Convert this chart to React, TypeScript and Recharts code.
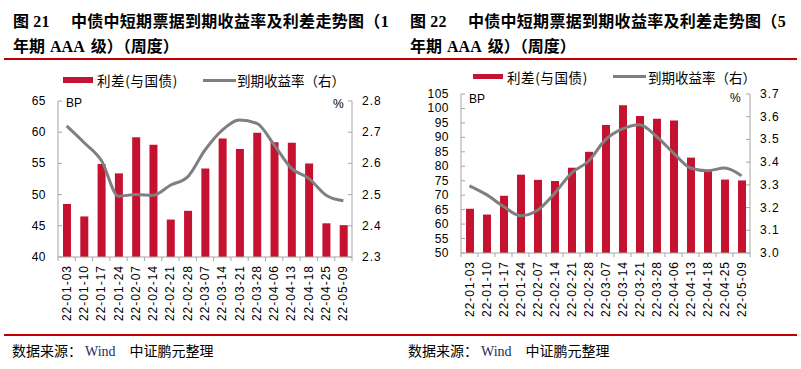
import React from 'react'
import {ComposedChart, Bar, Line, XAxis, YAxis} from 'recharts'

const dates = [
  '22-01-03', '22-01-10', '22-01-17', '22-01-24', '22-02-07', '22-02-14',
  '22-02-21', '22-02-28', '22-03-07', '22-03-14', '22-03-21', '22-03-28',
  '22-04-06', '22-04-13', '22-04-18', '22-04-25', '22-05-09',
]

const spread1y = [48.5, 46.5, 54.9, 53.4, 59.2, 58.0, 46.0, 47.4, 54.2, 59.0, 57.3, 59.9, 58.4, 58.3, 55.0, 45.4, 45.1]
const yield1y = [2.72, 2.667, 2.61, 2.495, 2.5, 2.498, 2.53, 2.557, 2.643, 2.707, 2.739, 2.728, 2.659, 2.584, 2.552, 2.498, 2.48]

const spread5y = [65.3, 63.3, 69.8, 77.1, 75.3, 74.9, 79.5, 85.0, 94.3, 101.1, 97.4, 96.4, 95.8, 83.0, 78.5, 75.4, 75.1]
const yield5y = [3.296, 3.257, 3.205, 3.164, 3.188, 3.262, 3.352, 3.404, 3.499, 3.546, 3.565, 3.513, 3.44, 3.374, 3.362, 3.374, 3.34]

const spreadTicks1y = [40, 45, 50, 55, 60, 65]
const yieldTicks1y = [2.3, 2.4, 2.5, 2.6, 2.7, 2.8]
const spreadTicks5y = [50, 55, 60, 65, 70, 75, 80, 85, 90, 95, 100, 105]
const yieldTicks5y = [3.0, 3.1, 3.2, 3.3, 3.4, 3.5, 3.6, 3.7]

const RED = '#C41230'
const GRAY_LINE = '#7F7F7F'
const AXIS = '#A6A6A6'
const CJK = '"Noto Sans CJK SC", "Noto Sans", sans-serif'
const SANS = '"Liberation Sans", Arial, sans-serif'
const SERIF = '"Liberation Serif", "Times New Roman", serif'

type PanelProps = {
  offsetX: number
  no: string
  tail: string
  spread: number[]
  yields: number[]
  spreadTicks: number[]
  yieldTicks: number[]
  top: number
  bottom: number
  leftW: number
  rightW: number
  legendY: number
  legendX: [number, number, number, number]
  bp: [number, number]
  pct: [number, number]
  titleX: number
  footX: number
}

function Panel(p: PanelProps) {
  const W = 400
  const H = 340
  const plotW = W - p.leftW - p.rightW
  const bw = plotW / dates.length
  const data = dates.map((d, i) => ({date: d, spread: p.spread[i], yld: p.yields[i]}))

  const XTick = (props: any) => {
    const {x, y, payload, index} = props
    return (
      <g>
        <line x1={x - bw / 2} x2={x - bw / 2} y1={y} y2={y + 4} stroke={AXIS} />
        {index === dates.length - 1 && (
          <line x1={x + bw / 2} x2={x + bw / 2} y1={y} y2={y + 4} stroke={AXIS} />
        )}
        <text
          x={x}
          y={y + 8}
          transform={`rotate(-90 ${x} ${y + 8})`}
          textAnchor="end"
          dominantBaseline="central"
          fontFamily={SANS}
          fontSize={12}
          letterSpacing={1}
          fill="#000"
        >
          {payload.value}
        </text>
      </g>
    )
  }

  const LeftTick = (props: any) => {
    const {x, y, payload} = props
    return (
      <g>
        <line x1={x + 12} x2={x + 16} y1={y} y2={y} stroke={AXIS} />
        <text x={x} y={y} textAnchor="end" dominantBaseline="central" fontFamily={SANS} fontSize={12} letterSpacing={0.5} fill="#000">
          {payload.value}
        </text>
      </g>
    )
  }

  const RightTick = (props: any) => {
    const {x, y, payload} = props
    return (
      <g>
        <line x1={x - 10} x2={x - 14} y1={y} y2={y} stroke={AXIS} />
        <text x={x} y={y} textAnchor="start" dominantBaseline="central" fontFamily={SANS} fontSize={12} letterSpacing={1} fill="#000">
          {Number(payload.value).toFixed(1)}
        </text>
      </g>
    )
  }

  const abs = (x: number, y: number): React.CSSProperties => ({
    position: 'absolute',
    left: x,
    top: y,
    whiteSpace: 'nowrap',
  })

  return (
    <div style={{position: 'absolute', left: p.offsetX, top: 0, width: W, height: 369}}>
      <div style={{...abs(p.titleX, 7), fontFamily: CJK, fontWeight: 700, fontSize: 16, lineHeight: '26px', letterSpacing: 0.3}}>
        图<span style={{fontFamily: SERIF, marginLeft: 4}}>{p.no}</span>
        <span style={{marginLeft: 21}}>中债中短期票据到期收益率及利差走势图（</span>
        <span style={{fontFamily: SERIF}}>{p.tail}</span>
      </div>
      <div style={{...abs(p.titleX, 32), fontFamily: CJK, fontWeight: 700, fontSize: 16, lineHeight: '26px'}}>
        年期<span style={{fontFamily: SERIF, marginLeft: 5, marginRight: 6}}>AAA</span>级）（周度）
      </div>

      <div style={{...abs(p.legendX[0], p.legendY - 2.75), width: 30, height: 5.5, background: RED}} />
      <div style={{...abs(p.legendX[1], p.legendY - 10), fontFamily: CJK, fontSize: 13.5, lineHeight: '20px', letterSpacing: 0.6}}>
        利差(与国债)
      </div>
      <div style={{...abs(p.legendX[2], p.legendY - 1.5), width: 33, height: 3, background: GRAY_LINE}} />
      <div style={{...abs(p.legendX[3], p.legendY - 10), fontFamily: CJK, fontSize: 13.5, lineHeight: '20px'}}>
        到期收益率（右）
      </div>

      <div style={{...abs(p.bp[0], p.bp[1] - 8), fontFamily: SANS, fontSize: 12, lineHeight: '16px'}}>BP</div>
      <div style={{...abs(p.pct[0], p.pct[1] - 8), fontFamily: SANS, fontSize: 12, lineHeight: '16px'}}>%</div>

      <div style={{position: 'absolute', left: 0, top: 0}}>
        <ComposedChart
          width={W}
          height={H}
          data={data}
          margin={{top: p.top, right: 0, bottom: p.bottom, left: 0}}
        >
          <XAxis
            dataKey="date"
            interval={0}
            height={75}
            tickLine={false}
            tickSize={0}
            tickMargin={0}
            axisLine={{stroke: AXIS}}
            tick={XTick}
          />
          <YAxis
            yAxisId="l"
            width={p.leftW}
            domain={[p.spreadTicks[0], p.spreadTicks[p.spreadTicks.length - 1]]}
            ticks={p.spreadTicks}
            interval={0}
            tickLine={false}
            tickSize={0}
            tickMargin={12}
            axisLine={{stroke: AXIS}}
            tick={LeftTick}
          />
          <YAxis
            yAxisId="r"
            orientation="right"
            width={p.rightW}
            domain={[p.yieldTicks[0], p.yieldTicks[p.yieldTicks.length - 1]]}
            ticks={p.yieldTicks}
            interval={0}
            tickLine={false}
            tickSize={0}
            tickMargin={10}
            axisLine={{stroke: AXIS}}
            tick={RightTick}
          />
          <Bar yAxisId="l" dataKey="spread" barSize={8} fill={RED} isAnimationActive={false} />
          <Line
            yAxisId="r"
            dataKey="yld"
            type="monotone"
            stroke={GRAY_LINE}
            strokeWidth={3}
            dot={false}
            activeDot={false}
            isAnimationActive={false}
          />
        </ComposedChart>
      </div>

      <div style={{...abs(p.footX, 340), fontFamily: CJK, fontSize: 14, lineHeight: '20px'}}>
        数据来源：<span style={{fontFamily: SERIF, color: '#1F2D5C', marginLeft: 3}}>Wind</span>
        <span style={{marginLeft: 14}}>中证鹏元整理</span>
      </div>
    </div>
  )
}

export default function App() {
  return (
    <div style={{position: 'absolute', left: 0, top: 0, width: 801, height: 369, background: '#fff', overflow: 'hidden'}}>
      <div style={{position: 'absolute', left: 4, top: 57.5, width: 793, height: 2, background: '#C00000'}} />
      <div style={{position: 'absolute', left: 4, top: 334, width: 793, height: 2, background: '#C00000'}} />
      <Panel
        offsetX={0}
        no="21"
        tail="1"
        spread={spread1y}
        yields={yield1y}
        spreadTicks={spreadTicks1y}
        yieldTicks={yieldTicks1y}
        top={101}
        bottom={8}
        leftW={58}
        rightW={48}
        legendY={80}
        legendX={[63, 97, 203, 237]}
        bp={[66, 103]}
        pct={[333, 104]}
        titleX={13}
        footX={12}
      />
      <Panel
        offsetX={400}
        no="22"
        tail="5"
        spread={spread5y}
        yields={yield5y}
        spreadTicks={spreadTicks5y}
        yieldTicks={yieldTicks5y}
        top={94}
        bottom={12}
        leftW={61}
        rightW={50}
        legendY={76.5}
        legendX={[73, 107, 213, 248]}
        bp={[69, 99]}
        pct={[330, 97.5]}
        titleX={10}
        footX={8}
      />
    </div>
  )
}
